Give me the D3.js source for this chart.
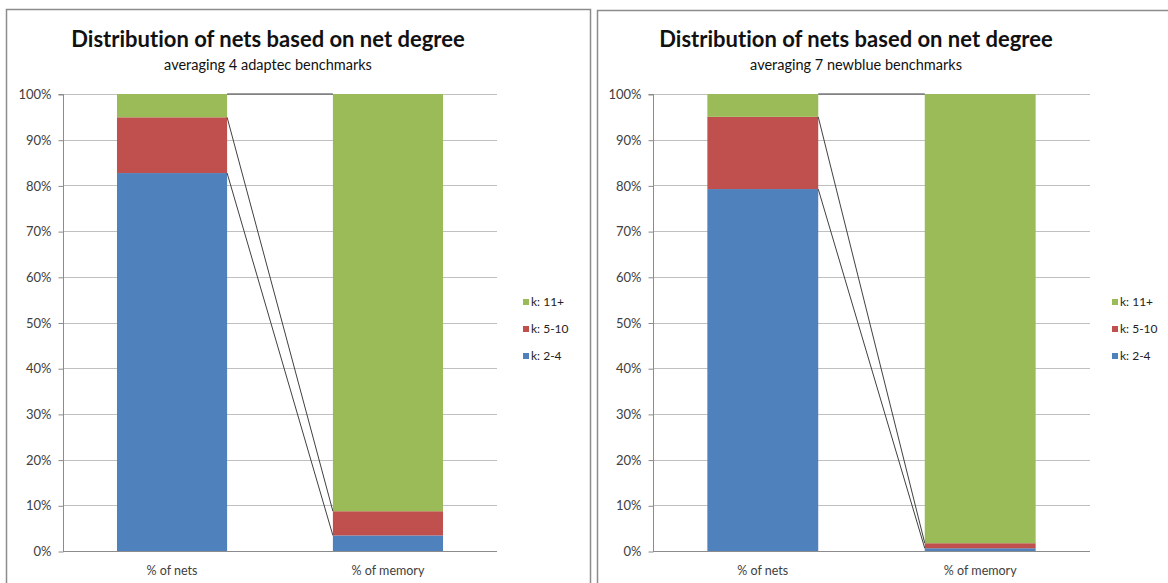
<!DOCTYPE html>
<html>
<head>
<meta charset="utf-8">
<script src="https://cdn.jsdelivr.net/npm/d3@7"></script>
<style>
  html, body { margin: 0; padding: 0; background: #fff; }
  svg { display: block; font-family: Lato, "Open Sans", sans-serif; font-variant-ligatures: none; }
</style>
</head>
<body>
<svg id="chart" width="1168" height="583"></svg>
<script>
// Category and series labels
const categories = ["% of nets", "% of memory"];
const seriesNames = ["k: 2-4", "k: 5-10", "k: 11+"];
const seriesColors = ["#4f81bd", "#c0504d", "#9bbb59"];

// Share per net-degree class (percent), averaged over adaptec benchmarks
const adaptecK2to4 = [82.7, 3.4];
const adaptecK5to10 = [12.2, 5.3];
const adaptecK11plus = [5.1, 91.3];

// Share per net-degree class (percent), averaged over newblue benchmarks
const newblueK2to4 = [79.2, 0.6];
const newblueK5to10 = [15.8, 1.1];
const newblueK11plus = [5.0, 98.3];

const yTicks = [0, 10, 20, 30, 40, 50, 60, 70, 80, 90, 100];

const titleText = "Distribution of nets based on net degree";
const subtitles = ["averaging 4 adaptec benchmarks", "averaging 7 newblue benchmarks"];

const svg = d3.select("#chart");

function buildRows(a, b, c) {
  return categories.map((cat, i) => ({ cat, [seriesNames[0]]: a[i], [seriesNames[1]]: b[i], [seriesNames[2]]: c[i] }));
}

function drawPanel(cfg) {
  const g = svg.append("g");

  // panel frame
  g.append("rect")
    .attr("x", cfg.frame[0] + 0.5).attr("y", cfg.frame[1] + 0.5)
    .attr("width", cfg.frame[2]).attr("height", cfg.frame[3])
    .attr("fill", "#fff").attr("stroke", "#8c8c8c").attr("stroke-width", 1.5);

  const x = d3.scaleBand().domain(categories).range([cfg.left, cfg.right]).paddingInner(0.49).paddingOuter(0.25);
  const y = d3.scaleLinear().domain([0, 100]).range([551, 94]);

  // gridlines
  g.append("g").selectAll("line").data(yTicks.filter(t => t > 0)).join("line")
    .attr("x1", cfg.left).attr("x2", cfg.right)
    .attr("y1", d => Math.round(y(d)) + 0.5).attr("y2", d => Math.round(y(d)) + 0.5)
    .attr("stroke", "#c0c0c0").attr("stroke-width", 1);

  // y axis
  const yAxis = d3.axisLeft(y).tickValues(yTicks).tickFormat(d => d + "%").tickSize(5).tickPadding(7);
  const ya = g.append("g").attr("transform", `translate(${cfg.left + 0.5},0.5)`).call(yAxis);
  ya.select(".domain").attr("stroke", "#8c8c8c").attr("d", `M-5,${Math.round(y(100))}H0V${Math.round(y(0))}`);
  ya.selectAll(".tick line").attr("stroke", "#8c8c8c");
  ya.selectAll(".tick text").attr("fill", "#404040").style("font-size", "13px").style("font-family", "Lato, sans-serif");

  // stacked bars
  const rows = buildRows(cfg.a, cfg.b, cfg.c);
  const stack = d3.stack().keys(seriesNames)(rows);
  stack.forEach((layer, si) => {
    g.append("g").selectAll("rect").data(layer).join("rect")
      .attr("x", d => x(d.data.cat))
      .attr("width", x.bandwidth())
      .attr("y", d => y(d[1]))
      .attr("height", d => y(d[0]) - y(d[1]))
      .attr("fill", seriesColors[si]);
  });

  // series lines joining the top of each segment across bars
  stack.forEach(layer => {
    g.append("line")
      .attr("x1", x(categories[0]) + x.bandwidth()).attr("y1", y(layer[0][1]))
      .attr("x2", x(categories[1])).attr("y2", y(layer[1][1]))
      .attr("stroke", "#404040").attr("stroke-width", 1);
  });

  // x axis
  const xa = g.append("g").attr("transform", `translate(0,${Math.round(y(0)) + 0.5})`)
    .call(d3.axisBottom(x).tickSize(0).tickPadding(15));
  xa.select(".domain").attr("stroke", "#8c8c8c").attr("d", `M${cfg.left},0H${cfg.right}`);
  xa.selectAll(".tick text").attr("fill", "#404040").style("font-size", "12.5px").style("font-family", "Lato, sans-serif");

  // titles
  g.append("text").attr("x", cfg.titleX).attr("y", 47).attr("text-anchor", "middle")
    .style("font-size", "22px").style("font-weight", "bold").attr("fill", "#111").text(titleText);
  g.append("text").attr("x", cfg.titleX).attr("y", 70).attr("text-anchor", "middle")
    .style("font-size", "14.5px").attr("fill", "#111").text(cfg.subtitle);

  // legend (top series first)
  const legendItems = seriesNames.map((n, i) => ({ n, c: seriesColors[i] })).reverse();
  const lg = g.append("g").attr("transform", `translate(${cfg.legendX},0)`);
  legendItems.forEach((it, i) => {
    const yy = 302 + i * 27;
    lg.append("rect").attr("x", 0).attr("y", yy - 3).attr("width", 6).attr("height", 6).attr("fill", it.c);
    lg.append("text").attr("x", 8).attr("y", yy + 4).style("font-size", "12px").attr("fill", "#222").text(it.n);
  });
}

drawPanel({
  frame: [6, 9, 584, 600], left: 63, right: 497, titleX: 268, legendX: 523,
  subtitle: subtitles[0], a: adaptecK2to4, b: adaptecK5to10, c: adaptecK11plus
});
drawPanel({
  frame: [597, 10, 600, 600], left: 653, right: 1090, titleX: 856, legendX: 1112,
  subtitle: subtitles[1], a: newblueK2to4, b: newblueK5to10, c: newblueK11plus
});
</script>
</body>
</html>
